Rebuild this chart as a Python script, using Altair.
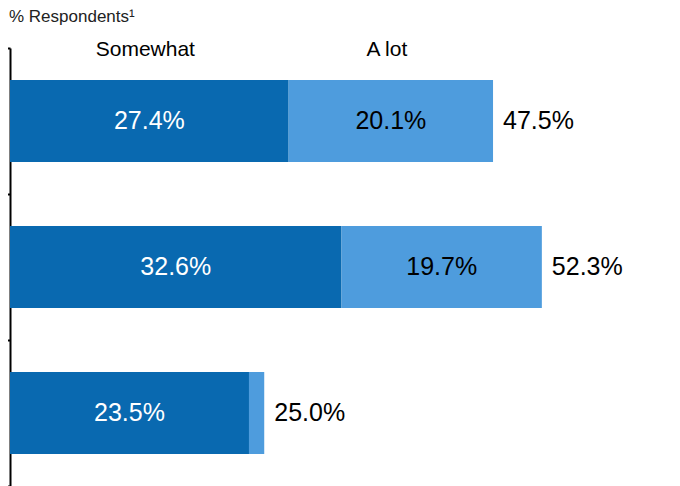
import altair as alt
import pandas as pd

categories = ["Item 1", "Item 2", "Item 3"]
segments = ["Somewhat", "A lot"]
somewhat = [27.4, 32.6, 23.5]
a_lot = [20.1, 19.7, 1.5]
totals = [47.5, 52.3, 25.0]
title_text = ["% Respondents¹"]

DARK = "#0969b0"
LIGHT = "#4e9cdd"
FONT = "Liberation Sans"

rows = []
for c, s, a in zip(categories, somewhat, a_lot):
    rows.append(dict(category=c, segment="Somewhat", start=0.0, end=s,
                     label=f"{s:.1f}%"))
    rows.append(dict(category=c, segment="A lot", start=s, end=s + a,
                     label=f"{a:.1f}%" if a >= 5 else ""))
df = pd.DataFrame(rows)
df["mid"] = (df["start"] + df["end"]) / 2
tot_df = pd.DataFrame(dict(category=categories, total=totals,
                           label=[f"{t:.1f}%" for t in totals]))
hdr_df = df[df["category"] == categories[0]].copy()
ttl_df = pd.DataFrame(dict(t=title_text))

xscale = alt.Scale(domain=[0, 65], nice=False)
Y = alt.Y("category:N", sort=categories,
          scale=alt.Scale(paddingInner=0, paddingOuter=0),
          axis=alt.Axis(title=None, labels=False, tickBand="extent", tickSize=10,
                        tickColor="black", domainColor="black", domainWidth=2,
                        tickWidth=2, grid=False))

bars = alt.Chart(df).mark_bar(height={"band": 0.56}).encode(
    y=Y,
    x=alt.X("start:Q", scale=xscale, axis=None),
    x2="end:Q",
    color=alt.Color("segment:N", scale=alt.Scale(domain=segments, range=[DARK, LIGHT]),
                    legend=None),
)

txt_dark = alt.Chart(df).transform_filter(alt.datum.segment == "Somewhat").mark_text(
    font=FONT, fontSize=25, color="white", baseline="middle", align="center"
).encode(y=Y, x=alt.X("mid:Q", scale=xscale, axis=None), text="label:N")

txt_light = alt.Chart(df).transform_filter(alt.datum.segment == "A lot").mark_text(
    font=FONT, fontSize=25, color="black", baseline="middle", align="center"
).encode(y=Y, x=alt.X("mid:Q", scale=xscale, axis=None), text="label:N")

txt_tot = alt.Chart(tot_df).mark_text(
    font=FONT, fontSize=25, color="black", baseline="middle", align="left", dx=10
).encode(y=Y, x=alt.X("total:Q", scale=xscale, axis=None), text="label:N")

hdr = alt.Chart(hdr_df).mark_text(
    font=FONT, fontSize=21, color="black", baseline="middle", align="center", dx=-4
).encode(x=alt.X("mid:Q", scale=xscale, axis=None), y=alt.value(2), text="segment:N")

ttl = alt.Chart(ttl_df).mark_text(
    font=FONT, fontSize=17, color="#222222", baseline="middle", align="left"
).encode(x=alt.value(-1), y=alt.value(-31), text="t:N")

chart = alt.layer(bars, txt_dark, txt_light, txt_tot, hdr, ttl).properties(
    width=661, height=438,
    autosize=alt.AutoSizeParams(type="none"),
    padding={"left": 2, "top": 40, "right": 0, "bottom": 0},
).configure_view(stroke=None)

chart.save("out.html", embed_options={"renderer": "svg", "actions": False})
